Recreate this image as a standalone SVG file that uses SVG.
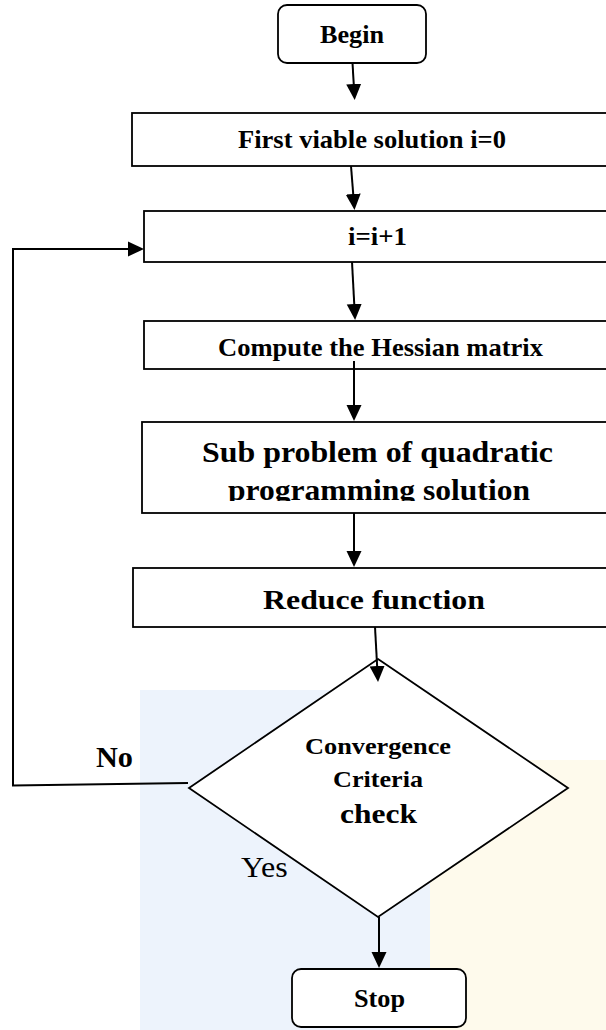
<svg xmlns="http://www.w3.org/2000/svg" width="606" height="1030" viewBox="0 0 606 1030">
<defs>
<style>
.box{fill:#fff;stroke:#000;stroke-width:1.8}
.t{font-family:"Liberation Serif","Times New Roman",serif;font-weight:bold;fill:#000}
.n{font-family:"Liberation Serif","Times New Roman",serif;font-weight:normal;fill:#000}
.c{fill:none;stroke:#000;stroke-width:2}
</style>
<marker id="ah" markerUnits="userSpaceOnUse" markerWidth="17" markerHeight="16" viewBox="0 0 17 16" refX="1" refY="8" orient="auto"><path d="M0,0.5 L16,8 L0,15.5 Z" fill="#000"/></marker>
<clipPath id="clipSub"><rect x="142" y="422" width="466" height="79"/></clipPath>
</defs>
<rect width="606" height="1030" fill="#fff"/>
<g id="background">
<rect x="140" y="690" width="290" height="340" fill="#edf3fc"/>
<rect x="430" y="760" width="176" height="270" fill="#fefaec"/>
</g>
<g id="begin">
<rect class="box" x="278" y="5" width="148" height="58" rx="9"/>
<text class="t" x="320" y="43" font-size="26" textLength="64" lengthAdjust="spacingAndGlyphs">Begin</text>
</g>
<g id="first">
<rect class="box" x="132" y="113" width="480" height="53"/>
<text class="t" x="238" y="148" font-size="25" textLength="268" lengthAdjust="spacingAndGlyphs">First viable solution i=0</text>
</g>
<g id="increment">
<rect class="box" x="144" y="211" width="468" height="51"/>
<text class="t" x="348" y="245" font-size="25" textLength="59" lengthAdjust="spacingAndGlyphs">i=i+1</text>
</g>
<g id="hessian">
<rect class="box" x="144" y="321" width="468" height="48"/>
<text class="t" x="218" y="356" font-size="26" textLength="325" lengthAdjust="spacingAndGlyphs">Compute the Hessian matrix</text>
</g>
<g id="subproblem">
<rect class="box" x="142" y="422" width="470" height="91"/>
<g clip-path="url(#clipSub)">
<text class="t" x="202" y="462" font-size="29" textLength="351" lengthAdjust="spacingAndGlyphs">Sub problem of quadratic</text>
<text class="t" x="228" y="500" font-size="29" textLength="302" lengthAdjust="spacingAndGlyphs">programming solution</text>
</g>
</g>
<g id="reduce">
<rect class="box" x="133" y="568" width="479" height="59"/>
<text class="t" x="263" y="609" font-size="27" textLength="222" lengthAdjust="spacingAndGlyphs">Reduce function</text>
</g>
<g id="convergence">
<polygon class="box" points="378,659 568,788 378,917 189,788"/>
<text class="t" x="305" y="754" font-size="24" textLength="146" lengthAdjust="spacingAndGlyphs">Convergence</text>
<text class="t" x="333" y="787" font-size="24" textLength="90" lengthAdjust="spacingAndGlyphs">Criteria</text>
<text class="t" x="340" y="823" font-size="28" textLength="77" lengthAdjust="spacingAndGlyphs">check</text>
</g>
<g id="stop">
<rect class="box" x="292" y="969" width="174" height="58" rx="9"/>
<text class="t" x="354" y="1007" font-size="26" textLength="51" lengthAdjust="spacingAndGlyphs">Stop</text>
</g>
<g id="connectors">
<path class="c" d="M352.5,63 L353.8,85" marker-end="url(#ah)"/>
<path class="c" d="M351,166 L353.3,195" marker-end="url(#ah)"/>
<path class="c" d="M352,262 L354.3,305" marker-end="url(#ah)"/>
<path class="c" d="M354,361 L354,406" marker-end="url(#ah)"/>
<path class="c" d="M354,513 L354,552" marker-end="url(#ah)"/>
<path class="c" d="M375,627 L377.2,667" marker-end="url(#ah)"/>
<path class="c" d="M379,917 L379,953" marker-end="url(#ah)"/>
<path class="c" d="M188,783 L13,785.5 L13,249 L129,249" marker-end="url(#ah)"/>
<text class="t" x="96" y="767" font-size="30" textLength="37" lengthAdjust="spacingAndGlyphs">No</text>
<text class="n" x="241" y="877" font-size="30" textLength="46.6" lengthAdjust="spacingAndGlyphs">Yes</text>
</g>
</svg>
